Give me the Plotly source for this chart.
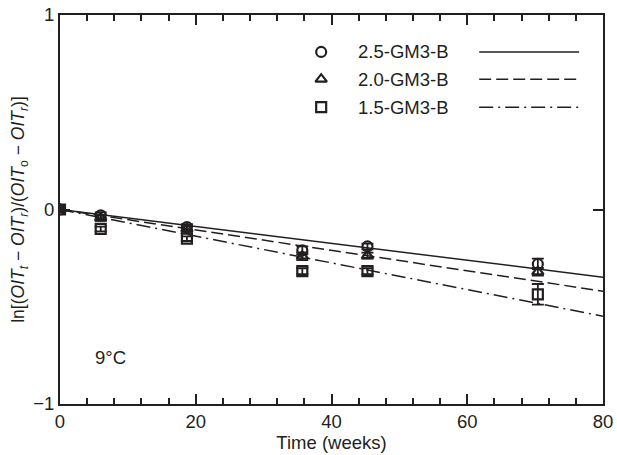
import plotly.graph_objects as go

weeks = [0, 6, 18.7, 35.7, 45.3, 70.4]

y_25 = [0, -0.03, -0.09, -0.21, -0.19, -0.28]
e_25 = [0.01, 0.015, 0.015, 0.02, 0.015, 0.027]
y_20 = [0, -0.043, -0.10, -0.24, -0.237, -0.32]
e_20 = [0.01, 0.015, 0.015, 0.02, 0.015, 0.02]
y_15 = [0, -0.10, -0.15, -0.317, -0.317, -0.436]
e_15 = [0.01, 0.012, 0.012, 0.015, 0.015, 0.053]

# fitted lines, endpoints
fit_x = [0, 80]
fit_25 = [0, -0.348]
fit_20 = [0, -0.42]
fit_15 = [0, -0.549]

names = ["2.5-GM3-B", "2.0-GM3-B", "1.5-GM3-B"]
symbols = ["circle-open", "triangle-up-open", "square-open"]
dashes = ["solid", "12px,5px", "14px,5px,2px,5px"]

ink = "#231f20"
fnt = "Liberation Sans, Arial, sans-serif"

fig = go.Figure()

series = [(y_25, e_25, fit_25), (y_20, e_20, fit_20), (y_15, e_15, fit_15)]
for (ys, es, fy), sym, dash in zip(series, symbols, dashes):
    fig.add_trace(go.Scatter(x=fit_x, y=fy, mode="lines",
                             line=dict(color=ink, width=1.5, dash=dash),
                             showlegend=False, hoverinfo="skip"))
    fig.add_trace(go.Scatter(x=weeks, y=ys, mode="markers",
                             marker=dict(symbol=sym, size=10, color=ink,
                                         line=dict(width=2.2, color=ink)),
                             error_y=dict(type="data", array=es, color=ink,
                                          thickness=1.8, width=6),
                             showlegend=False))

# custom legend on an overlay axis (0..1 box)
leg_y = [0.905, 0.835, 0.763]
for name, sym, dash, ly in zip(names, symbols, dashes, leg_y):
    fig.add_trace(go.Scatter(x=[0.481], y=[ly], mode="markers", xaxis="x2", yaxis="y2",
                             marker=dict(symbol=sym, size=10, color=ink,
                                         line=dict(width=2.2, color=ink)),
                             showlegend=False, hoverinfo="skip"))
    fig.add_trace(go.Scatter(x=[0.772, 0.956], y=[ly, ly], mode="lines", xaxis="x2", yaxis="y2",
                             line=dict(color=ink, width=1.5, dash=dash),
                             showlegend=False, hoverinfo="skip"))
    fig.add_annotation(x=0.545, y=ly, xref="x2", yref="y2", text=name, showarrow=False,
                       xanchor="left", yanchor="middle", font=dict(size=18.5, color=ink, family=fnt))

fig.add_annotation(x=7.4, y=-0.763, text="9°C", showarrow=False,
                   font=dict(size=18.5, color=ink, family=fnt))

axis_common = dict(showgrid=False, zeroline=False, showline=True, linecolor=ink, linewidth=2,
                   mirror="ticks", ticks="inside", tickcolor=ink, tickwidth=2, automargin=False,
                   tickfont=dict(size=18.5, color=ink, family=fnt))

fig.update_layout(
    width=617, height=455,
    margin=dict(l=60, r=14, t=15, b=51),
    plot_bgcolor="white", paper_bgcolor="white",
    font=dict(family=fnt, color=ink),
    xaxis=dict(range=[0, 80], dtick=20, ticklen=10,
               minor=dict(dtick=4, ticks="inside", ticklen=6, tickcolor=ink, tickwidth=2),
               title=dict(text="Time (weeks)", font=dict(size=18.5, color=ink, family=fnt), standoff=2),
               **axis_common),
    yaxis=dict(range=[-1, 1], dtick=1, ticklen=10, tickformat="d",
               title=dict(text="ln[(<i>OIT</i><sub><i>t</i></sub> − <i>OIT</i><sub><i>r</i></sub>)/"
                               "(<i>OIT</i><sub>o</sub> − <i>OIT</i><sub><i>r</i></sub>)]",
                          font=dict(size=17.5, color=ink, family=fnt), standoff=4),
               **axis_common),
    xaxis2=dict(range=[0, 1], overlaying="x", visible=False),
    yaxis2=dict(range=[0, 1], overlaying="y", visible=False),
)

# drop the default page margin so the figure sits at the window corner
fig.write_html("out.html", config={"displayModeBar": False},
               post_script="document.body.style.margin='0px';")
